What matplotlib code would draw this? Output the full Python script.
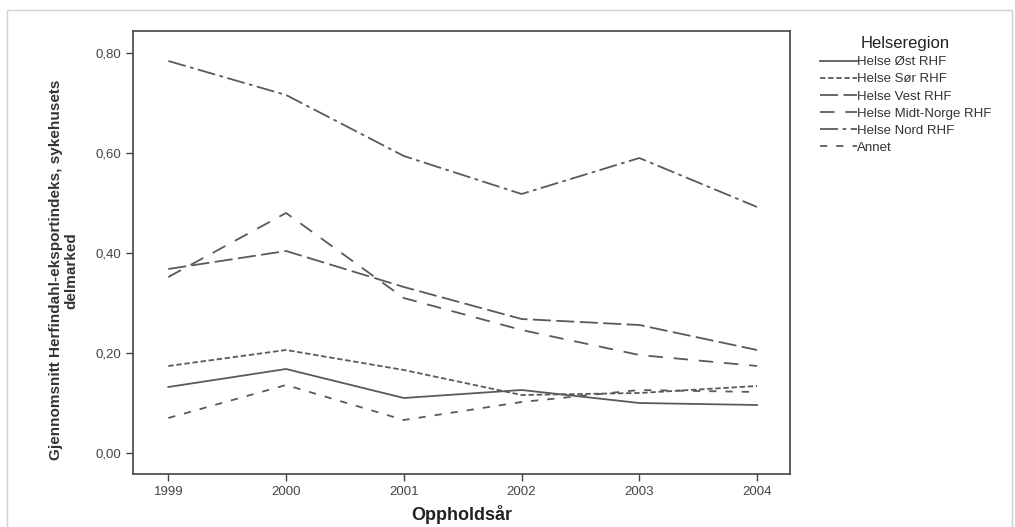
import matplotlib.pyplot as plt
from matplotlib.patches import Rectangle
from matplotlib.ticker import FuncFormatter

plt.rcParams['font.family'] = ['Liberation Sans', 'DejaVu Sans']

years = [1999, 2000, 2001, 2002, 2003, 2004]
ost = [0.132, 0.168, 0.110, 0.126, 0.100, 0.096]
sor = [0.174, 0.206, 0.166, 0.116, 0.120, 0.134]
vest = [0.368, 0.404, 0.332, 0.268, 0.256, 0.206]
midt = [0.352, 0.480, 0.310, 0.246, 0.196, 0.174]
nord = [0.784, 0.716, 0.594, 0.518, 0.590, 0.492]
annet = [0.070, 0.136, 0.066, 0.102, 0.126, 0.122]

names = ['Helse Øst RHF', 'Helse Sør RHF', 'Helse Vest RHF',
         'Helse Midt-Norge RHF', 'Helse Nord RHF', 'Annet']
series = [ost, sor, vest, midt, nord, annet]
styles = ['-', (0, (3, 1.5)), (0, (10, 3)), (0, (8, 6)),
          (0, (10, 2.5, 2, 2.5)), (0, (4, 5))]

col = '#5a5a5a'
fig = plt.figure(figsize=(10.15, 5.27), dpi=100)
ax = fig.add_axes([133 / 1015, 1 - 474 / 527, 657 / 1015, 443 / 527])

# light frame around the chart
fig.patches.append(Rectangle((7 / 1015, -0.1), 1005 / 1015, 1.1 - 10 / 527,
                             transform=fig.transFigure, fill=False,
                             edgecolor='#d0d0d0', lw=1))

for name, vals, ls in zip(names, series, styles):
    ax.plot(years, vals, color=col, lw=1.3, linestyle=ls, label=name)

ax.set_xlim(1998.70, 2004.28)
ax.set_ylim(-0.042, 0.844)
ax.set_xticks(years)
ax.set_yticks([0, 0.2, 0.4, 0.6, 0.8])
ax.yaxis.set_major_formatter(FuncFormatter(lambda v, p: f'{v:.2f}'.replace('.', ',')))
for s in ax.spines.values():
    s.set_color('#444444')
    s.set_linewidth(1.2)
ax.tick_params(colors='#444444', labelcolor='#444444', labelsize=9.5, length=5, width=1)

ax.set_xlabel('Oppholdsår', fontsize=13, fontweight='bold', color='#222222', labelpad=5)
ax.set_ylabel('Gjennomsnitt Herfindahl-eksportindeks, sykehusets\ndelmarked',
              fontsize=11, fontweight='bold', color='#333333',
              linespacing=1.15, va='center')
ax.yaxis.set_label_coords(-0.105, 0.46)

leg = ax.legend(loc='upper left', bbox_to_anchor=(1.027, 1.015), frameon=False,
                title='Helseregion', fontsize=9.5, title_fontsize=12,
                handlelength=2.8, handletextpad=0.05, labelspacing=0.37)
for t in leg.get_texts():
    t.set_color('#333333')
leg.get_title().set_color('#222222')

fig.savefig('out.png', dpi=100)
